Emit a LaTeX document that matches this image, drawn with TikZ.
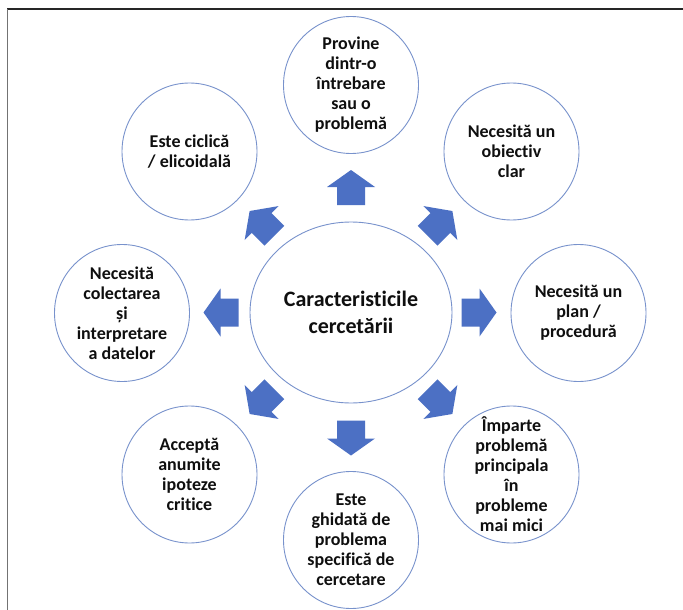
\documentclass[tikz,border=0pt]{standalone}
\usepackage{fontspec}
\setmainfont{Carlito}[Ligatures=NoCommon]
\usetikzlibrary{shapes.geometric}
\definecolor{ringblue}{RGB}{120,146,204}
\definecolor{arrowblue}{RGB}{76,112,196}
\definecolor{inktext}{RGB}{15,15,15}
\begin{document}
\begin{tikzpicture}[x=1pt,y=-1pt,
  bubble/.style={ellipse,draw=ringblue,line width=0.9pt,fill=white,minimum width=135pt,minimum height=137pt,inner sep=0pt},
  hub/.style={bubble,minimum width=202pt,minimum height=181pt},
  txt/.style={align=center,text=inktext,font=\fontsize{18}{20}\selectfont\bfseries,inner sep=0pt},
  hubtxt/.style={txt,font=\fontsize{22}{27}\selectfont\bfseries},
  barrow/.pic={\fill[arrowblue] (-17.5,-14) -- (0.5,-14) -- (0.5,-24) -- (17.5,0) -- (0.5,24) -- (0.5,14) -- (-17.5,14) -- cycle;}
]
\useasboundingbox[fill=white] (0,0) rectangle (683,610);
% frame
\draw[line width=1.6pt,black!85] (7,9) -- (683,9);
\draw[line width=1.6pt,black!55] (7.5,9) -- (7.5,610);

% central node
\node[hub,label={[hubtxt]center:{Caracteristicile\\cercetării}}] (hub) at (351,312.5) {};

% outer nodes
\node[bubble,label={[txt]center:{Provine\\dintr-o\\întrebare\\sau o\\problemă}}] (n) at (351,85) {};
\node[bubble,label={[txt]center:{Necesită un\\obiectiv\\clar}}] (ne) at (511.5,151.5) {};
\node[bubble,label={[txt]center:{Necesită un\\plan /\\procedură}}] (e) at (578.5,313) {};
\node[bubble,label={[txt]center:{Împarte\\problemă\\principala\\în\\probleme\\mai mici}}] (se) at (511.5,474.5) {};
\node[bubble,label={[txt]center:{Este\\ghidată de\\problema\\specifică de\\cercetare}}] (s) at (351,540) {};
\node[bubble,label={[txt]center:{Acceptă\\anumite\\ipoteze\\critice}}] (sw) at (189.5,474.5) {};
\node[bubble,label={[txt]center:{Necesită\\colectarea\\și\\interpretare\\a datelor}}] (w) at (122,313) {};
\node[bubble,label={[txt]center:{Este ciclică\\/ elicoidală}}] (nw) at (189.5,151.5) {};

% block arrows
\pic[rotate=90] at (351,187.5) {barrow};
\pic[rotate=270] at (351,438) {barrow};
\pic[rotate=0] at (479,312.5) {barrow};
\pic[rotate=180] at (221,312.5) {barrow};
\pic[rotate=45] at (440,223.4) {barrow};
\pic[rotate=135] at (262,223.4) {barrow};
\pic[rotate=315] at (440,401.6) {barrow};
\pic[rotate=225] at (262,401.6) {barrow};
\end{tikzpicture}
\end{document}
